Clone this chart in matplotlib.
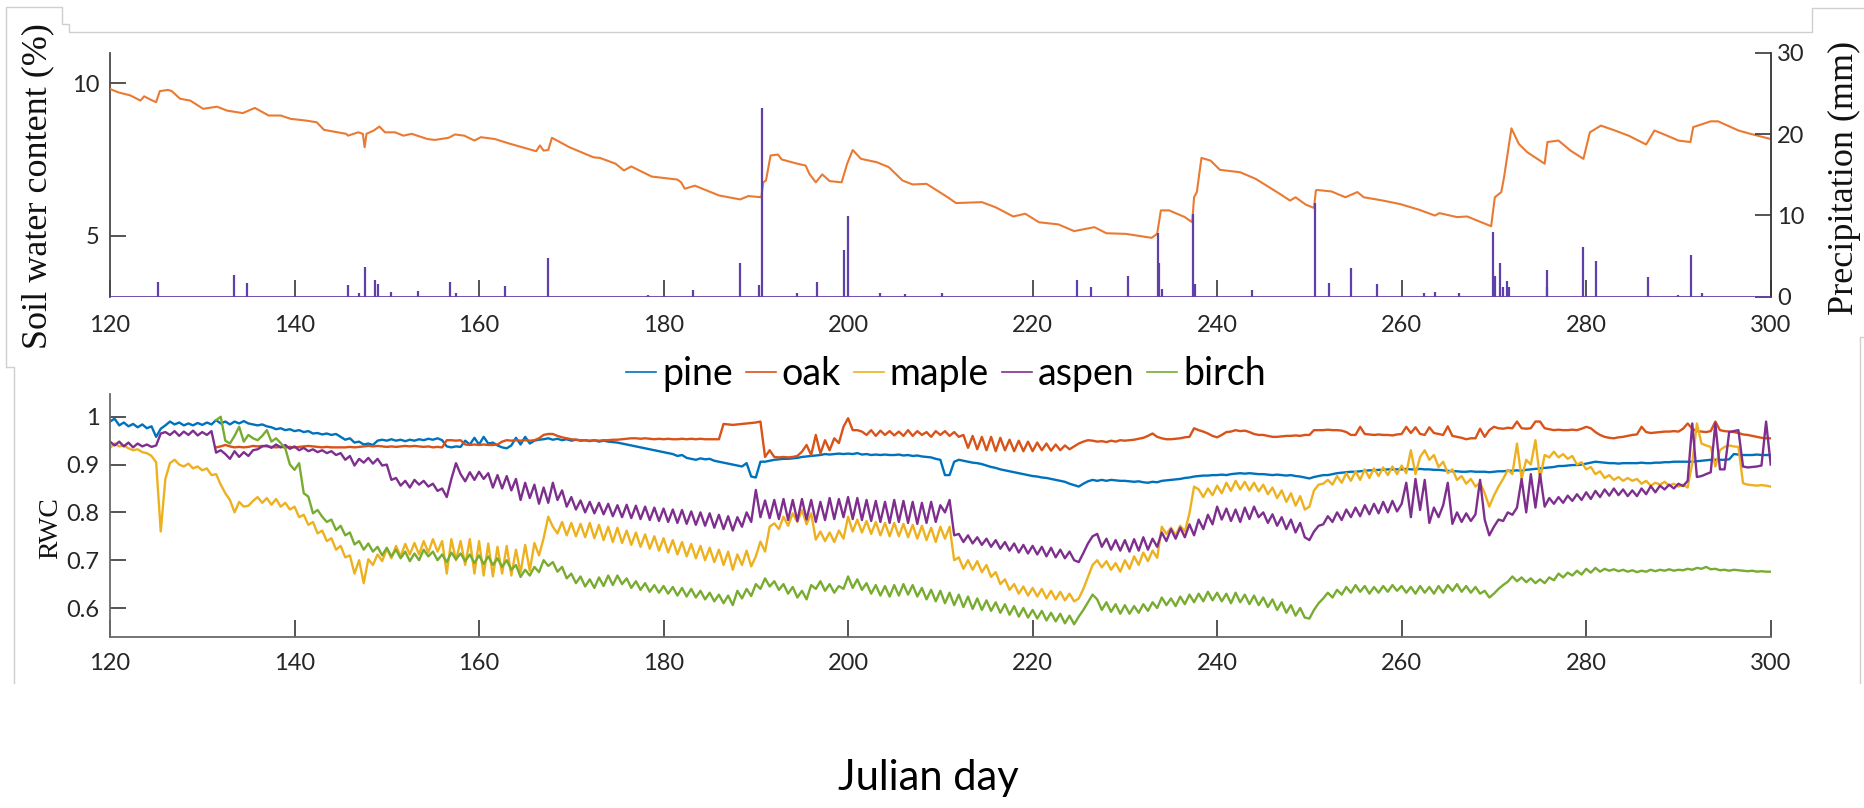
import numpy as np
import matplotlib
matplotlib.use("Agg")
import matplotlib.pyplot as plt
from matplotlib.lines import Line2D

# ---------------- data ----------------
# top panel: soil water content (%) of the oak plot
swc_day = [120.0, 120.9, 122.2, 123.3, 123.7, 124.6, 125.0, 125.4, 126.3, 126.7, 127.6, 128.7, 130.1, 131.6,
           132.7, 134.4, 135.7, 137.2, 138.5, 139.6, 141.1, 142.4, 143.2, 145.6, 145.8, 146.9, 147.4, 147.6,
           147.8, 148.6, 149.2, 149.8, 150.9, 151.8, 152.7, 154.4, 155.2, 156.7, 157.4, 158.4, 159.5, 160.2,
           161.7, 163.4, 166.2, 166.6, 167.0, 167.5, 167.9, 169.8, 172.4, 173.1, 174.8, 175.7, 176.5, 178.7,
           181.5, 181.9, 182.3, 183.4, 186.0, 188.3, 189.2, 190.6, 190.8, 191.1, 191.6, 192.4, 192.8, 194.5,
           195.4, 195.8, 196.5, 197.2, 198.0, 199.3, 199.9, 200.5, 201.4, 203.1, 204.4, 205.9, 207.0, 208.5,
           210.8, 211.7, 214.5, 216.0, 217.9, 219.2, 220.7, 222.8, 224.5, 226.7, 228.0, 230.1, 232.9, 233.5,
           233.9, 234.8, 236.5, 237.3, 237.5, 237.8, 238.3, 239.3, 240.3, 242.5, 244.2, 246.8, 247.9, 248.5,
           249.6, 250.5, 250.7, 250.8, 252.4, 253.9, 255.2, 255.9, 258.0, 259.8, 261.9, 263.6, 264.1, 266.0,
           267.1, 269.7, 270.1, 270.8, 271.1, 271.9, 272.7, 273.6, 275.5, 275.8, 277.0, 278.3, 279.7, 280.4,
           281.6, 283.1, 284.6, 286.5, 287.4, 288.3, 290.0, 291.3, 291.6, 293.5, 294.3, 296.5, 297.8, 300.0]
swc_val = [9.81, 9.70, 9.60, 9.43, 9.57, 9.43, 9.38, 9.74, 9.78, 9.74, 9.49, 9.43, 9.16, 9.23,
           9.10, 9.02, 9.19, 8.94, 8.94, 8.83, 8.78, 8.72, 8.47, 8.34, 8.28, 8.39, 8.34, 7.90,
           8.34, 8.45, 8.58, 8.39, 8.39, 8.28, 8.34, 8.17, 8.14, 8.21, 8.32, 8.28, 8.12, 8.23,
           8.17, 8.01, 7.77, 7.96, 7.79, 7.81, 8.21, 7.90, 7.57, 7.55, 7.36, 7.14, 7.27, 6.94,
           6.84, 6.75, 6.54, 6.64, 6.32, 6.19, 6.30, 6.26, 6.75, 6.81, 7.63, 7.66, 7.50, 7.36,
           7.30, 7.03, 6.75, 7.01, 6.79, 6.75, 7.36, 7.81, 7.52, 7.41, 7.25, 6.81, 6.68, 6.70,
           6.26, 6.07, 6.10, 5.93, 5.63, 5.72, 5.44, 5.37, 5.15, 5.28, 5.08, 5.06, 4.93, 5.06,
           5.83, 5.83, 5.61, 5.44, 6.26, 6.43, 7.55, 7.46, 7.16, 7.08, 6.86, 6.37, 6.15, 6.26,
           6.02, 5.91, 6.48, 6.50, 6.45, 6.26, 6.43, 6.26, 6.15, 6.04, 5.85, 5.66, 5.74, 5.61,
           5.63, 5.31, 6.26, 6.43, 6.92, 8.52, 8.01, 7.74, 7.36, 8.07, 8.12, 7.79, 7.52, 8.39,
           8.61, 8.45, 8.28, 7.99, 8.45, 8.34, 8.12, 8.07, 8.56, 8.75, 8.75, 8.45, 8.34, 8.17]

# top panel: precipitation events (mm)
precip_day = [125.2, 133.4, 134.8, 145.8, 147.0, 147.6, 148.7, 149.0, 150.5, 153.4, 156.8, 157.5, 162.8,
              167.5, 178.3, 183.2, 188.3, 190.3, 190.7, 194.5, 196.6, 199.6, 200.0, 203.5, 206.2, 210.2,
              224.8, 226.3, 230.3, 233.6, 233.7, 234.0, 237.4, 237.55, 243.8, 250.6, 252.1, 254.5, 257.3,
              262.4, 263.6, 266.2, 269.9, 270.1, 270.7, 271.0, 271.4, 271.6, 275.7, 275.8, 279.7, 281.1,
              286.7, 290.0, 291.4, 292.5]
precip_mm = [1.8, 2.7, 1.7, 1.4, 0.5, 3.6, 2.0, 1.6, 0.6, 0.7, 1.8, 0.4, 1.3,
             4.8, 0.2, 0.8, 4.1, 1.4, 23.2, 0.4, 1.8, 5.8, 9.9, 0.5, 0.3, 0.4,
             2.0, 1.2, 2.5, 7.8, 4.1, 1.0, 10.2, 1.6, 0.8, 11.5, 1.7, 3.5, 1.6,
             0.4, 0.6, 0.4, 8.0, 2.5, 4.2, 1.2, 1.9, 1.2, 1.2, 3.3, 6.1, 4.4,
             2.4, 0.2, 5.1, 0.4]

# bottom panel: relative water content, half-day readings
rwc_step = 0.5
species = ["pine", "oak", "maple", "aspen", "birch"]
start_day = {"pine": 120.0, "oak": 131.5, "maple": 120.0, "aspen": 120.0, "birch": 131.5}

pine = [
    0.990, 0.996, 0.982, 0.988, 0.980, 0.985, 0.978, 0.984, 0.976, 0.980,
    0.958, 0.975, 0.982, 0.990, 0.984, 0.988, 0.982, 0.986, 0.982, 0.987,
    0.983, 0.988, 0.984, 0.993, 0.986, 0.990, 0.984, 0.990, 0.986, 0.991,
    0.986, 0.984, 0.982, 0.984, 0.980, 0.978, 0.974, 0.976, 0.972, 0.974,
    0.970, 0.972, 0.968, 0.970, 0.965, 0.966, 0.963, 0.965, 0.962, 0.964,
    0.958, 0.952, 0.955, 0.946, 0.948, 0.942, 0.944, 0.941, 0.950, 0.952,
    0.950, 0.953, 0.950, 0.952, 0.949, 0.952, 0.950, 0.953, 0.951, 0.954,
    0.952, 0.955, 0.951, 0.938, 0.936, 0.938, 0.937, 0.950, 0.942, 0.956,
    0.942, 0.958, 0.944, 0.946, 0.940, 0.936, 0.934, 0.940, 0.956, 0.942,
    0.958, 0.944, 0.950, 0.952, 0.953, 0.955, 0.952, 0.954, 0.951, 0.953,
    0.950, 0.952, 0.950, 0.951, 0.949, 0.951, 0.948, 0.950, 0.948, 0.947,
    0.946, 0.944, 0.942, 0.940, 0.938, 0.936, 0.934, 0.932, 0.930, 0.928,
    0.926, 0.924, 0.922, 0.918, 0.920, 0.914, 0.912, 0.910, 0.913, 0.911,
    0.912, 0.908, 0.906, 0.904, 0.902, 0.900, 0.898, 0.896, 0.903, 0.875,
    0.873, 0.906, 0.906, 0.908, 0.910, 0.911, 0.912, 0.912, 0.913, 0.914,
    0.916, 0.917, 0.918, 0.919, 0.920, 0.922, 0.921, 0.922, 0.923, 0.922,
    0.923, 0.922, 0.924, 0.921, 0.922, 0.920, 0.921, 0.920, 0.921, 0.920,
    0.920, 0.921, 0.919, 0.920, 0.918, 0.919, 0.917, 0.916, 0.915, 0.912,
    0.910, 0.878, 0.878, 0.906, 0.910, 0.908, 0.906, 0.904, 0.903, 0.901,
    0.898, 0.895, 0.893, 0.890, 0.888, 0.886, 0.884, 0.882, 0.880, 0.878,
    0.876, 0.875, 0.873, 0.872, 0.870, 0.868, 0.866, 0.864, 0.860, 0.857,
    0.854, 0.860, 0.865, 0.868, 0.866, 0.868, 0.866, 0.868, 0.867, 0.866,
    0.866, 0.865, 0.864, 0.865, 0.863, 0.862, 0.864, 0.863, 0.866, 0.867,
    0.868, 0.869, 0.870, 0.872, 0.873, 0.875, 0.876, 0.877, 0.877, 0.878,
    0.878, 0.879, 0.878, 0.880, 0.881, 0.882, 0.881, 0.882, 0.881, 0.880,
    0.880, 0.879, 0.878, 0.879, 0.878, 0.877, 0.878, 0.876, 0.875, 0.873,
    0.871, 0.874, 0.876, 0.878, 0.878, 0.880, 0.882, 0.883, 0.884, 0.885,
    0.885, 0.886, 0.887, 0.888, 0.888, 0.889, 0.889, 0.890, 0.890, 0.890,
    0.890, 0.891, 0.890, 0.890, 0.891, 0.890, 0.890, 0.889, 0.889, 0.888,
    0.887, 0.886, 0.886, 0.885, 0.885, 0.886, 0.885, 0.885, 0.885, 0.884,
    0.885, 0.886, 0.886, 0.887, 0.887, 0.888, 0.887, 0.889, 0.890, 0.891,
    0.892, 0.893, 0.894, 0.895, 0.897, 0.897, 0.898, 0.899, 0.899, 0.900,
    0.902, 0.904, 0.906, 0.905, 0.904, 0.903, 0.903, 0.902, 0.903, 0.903,
    0.903, 0.903, 0.904, 0.903, 0.903, 0.904, 0.904, 0.905, 0.905, 0.906,
    0.906, 0.906, 0.906, 0.906, 0.907, 0.908, 0.909, 0.910, 0.910, 0.910,
    0.910, 0.911, 0.922, 0.921, 0.920, 0.920, 0.920, 0.921, 0.920, 0.920,
    0.920]

oak = [
    0.936, 0.938, 0.941, 0.938, 0.936, 0.937, 0.936,
    0.937, 0.939, 0.938, 0.939, 0.938, 0.937, 0.936, 0.937, 0.936, 0.937,
    0.936, 0.937, 0.938, 0.939, 0.938, 0.937, 0.936, 0.937, 0.936, 0.936,
    0.936, 0.936, 0.937, 0.936, 0.937, 0.938, 0.939, 0.938, 0.939, 0.938,
    0.937, 0.938, 0.937, 0.938, 0.939, 0.938, 0.939, 0.938, 0.937, 0.938,
    0.936, 0.937, 0.936, 0.951, 0.951, 0.950, 0.951, 0.942, 0.941, 0.942,
    0.941, 0.942, 0.941, 0.941, 0.942, 0.948, 0.951, 0.950, 0.951, 0.950,
    0.951, 0.950, 0.951, 0.955, 0.962, 0.964, 0.964, 0.960, 0.957, 0.955,
    0.953, 0.952, 0.951, 0.951, 0.950, 0.951, 0.950, 0.951, 0.951, 0.952,
    0.952, 0.953, 0.954, 0.955, 0.955, 0.954, 0.955, 0.954, 0.953, 0.954,
    0.953, 0.954, 0.953, 0.953, 0.954, 0.953, 0.954, 0.953, 0.954, 0.953,
    0.953, 0.953, 0.953, 0.985, 0.984, 0.983, 0.984, 0.985, 0.986, 0.987,
    0.988, 0.990, 0.916, 0.930, 0.916, 0.915, 0.916, 0.915, 0.916, 0.918,
    0.927, 0.941, 0.920, 0.962, 0.923, 0.951, 0.930, 0.955, 0.945, 0.979,
    0.997, 0.972, 0.972, 0.969, 0.962, 0.972, 0.960, 0.971, 0.962, 0.970,
    0.961, 0.969, 0.960, 0.972, 0.960, 0.970, 0.962, 0.968, 0.958, 0.970,
    0.962, 0.970, 0.960, 0.968, 0.958, 0.962, 0.935, 0.960, 0.932, 0.958,
    0.930, 0.958, 0.928, 0.956, 0.930, 0.952, 0.928, 0.950, 0.928, 0.948,
    0.928, 0.946, 0.930, 0.944, 0.929, 0.942, 0.930, 0.940, 0.932, 0.938,
    0.944, 0.948, 0.951, 0.950, 0.948, 0.949, 0.947, 0.950, 0.948, 0.951,
    0.950, 0.951, 0.952, 0.954, 0.956, 0.960, 0.965, 0.958, 0.955, 0.953,
    0.953, 0.954, 0.955, 0.957, 0.958, 0.976, 0.972, 0.969, 0.965, 0.960,
    0.957, 0.962, 0.968, 0.969, 0.972, 0.970, 0.971, 0.968, 0.964, 0.962,
    0.962, 0.960, 0.958, 0.958, 0.959, 0.960, 0.960, 0.961, 0.960, 0.962,
    0.962, 0.972, 0.972, 0.972, 0.973, 0.972, 0.972, 0.971, 0.968, 0.962,
    0.962, 0.979, 0.964, 0.963, 0.962, 0.963, 0.962, 0.962, 0.961, 0.963,
    0.964, 0.979, 0.966, 0.978, 0.964, 0.962, 0.978, 0.966, 0.964, 0.962,
    0.980, 0.960, 0.958, 0.956, 0.953, 0.955, 0.955, 0.975, 0.958, 0.972,
    0.979, 0.976, 0.975, 0.977, 0.976, 0.990, 0.976, 0.975, 0.976, 0.990,
    0.990, 0.976, 0.974, 0.972, 0.973, 0.972, 0.972, 0.973, 0.972, 0.975,
    0.979, 0.976, 0.968, 0.962, 0.958, 0.956, 0.955, 0.957, 0.958, 0.960,
    0.962, 0.963, 0.979, 0.968, 0.966, 0.967, 0.968, 0.969, 0.969, 0.970,
    0.969, 0.975, 0.986, 0.975, 0.970, 0.969, 0.968, 0.970, 0.990, 0.972,
    0.970, 0.969, 0.968, 0.966, 0.963, 0.962, 0.960, 0.958, 0.956, 0.955,
    0.955]

maple = [
    0.935, 0.944, 0.938, 0.940, 0.934, 0.930, 0.932, 0.926, 0.924, 0.918,
    0.905, 0.760, 0.870, 0.903, 0.910, 0.900, 0.896, 0.902, 0.892, 0.896,
    0.888, 0.892, 0.878, 0.880, 0.858, 0.840, 0.826, 0.800, 0.822, 0.812,
    0.814, 0.824, 0.832, 0.820, 0.830, 0.816, 0.828, 0.812, 0.820, 0.806,
    0.812, 0.790, 0.795, 0.774, 0.780, 0.756, 0.762, 0.740, 0.746, 0.722,
    0.730, 0.706, 0.710, 0.672, 0.700, 0.652, 0.702, 0.690, 0.712, 0.698,
    0.724, 0.704, 0.730, 0.708, 0.734, 0.712, 0.736, 0.712, 0.740, 0.716,
    0.744, 0.718, 0.740, 0.672, 0.744, 0.700, 0.740, 0.690, 0.744, 0.672,
    0.740, 0.668, 0.735, 0.666, 0.728, 0.672, 0.730, 0.668, 0.722, 0.674,
    0.732, 0.678, 0.736, 0.710, 0.746, 0.791, 0.770, 0.756, 0.780, 0.752,
    0.778, 0.750, 0.776, 0.748, 0.778, 0.746, 0.774, 0.742, 0.770, 0.738,
    0.768, 0.736, 0.762, 0.732, 0.758, 0.728, 0.754, 0.724, 0.750, 0.720,
    0.746, 0.716, 0.742, 0.712, 0.738, 0.708, 0.734, 0.704, 0.730, 0.700,
    0.726, 0.696, 0.722, 0.690, 0.718, 0.680, 0.712, 0.690, 0.720, 0.687,
    0.708, 0.739, 0.718, 0.770, 0.777, 0.765, 0.791, 0.772, 0.798, 0.780,
    0.805, 0.775, 0.798, 0.743, 0.760, 0.740, 0.758, 0.738, 0.762, 0.745,
    0.791, 0.760, 0.785, 0.758, 0.782, 0.755, 0.780, 0.752, 0.778, 0.750,
    0.778, 0.750, 0.776, 0.748, 0.774, 0.745, 0.772, 0.742, 0.768, 0.738,
    0.770, 0.745, 0.770, 0.700, 0.706, 0.682, 0.700, 0.680, 0.698, 0.675,
    0.690, 0.665, 0.675, 0.650, 0.660, 0.638, 0.650, 0.630, 0.645, 0.626,
    0.642, 0.624, 0.640, 0.620, 0.636, 0.618, 0.634, 0.616, 0.630, 0.614,
    0.620, 0.640, 0.665, 0.690, 0.700, 0.685, 0.698, 0.680, 0.694, 0.676,
    0.700, 0.682, 0.708, 0.690, 0.716, 0.698, 0.720, 0.705, 0.770, 0.755,
    0.768, 0.752, 0.772, 0.760, 0.798, 0.854, 0.848, 0.832, 0.850, 0.836,
    0.856, 0.840, 0.862, 0.845, 0.866, 0.848, 0.864, 0.846, 0.862, 0.844,
    0.858, 0.838, 0.852, 0.830, 0.846, 0.822, 0.840, 0.814, 0.834, 0.806,
    0.812, 0.846, 0.858, 0.860, 0.868, 0.858, 0.876, 0.862, 0.882, 0.866,
    0.886, 0.868, 0.890, 0.872, 0.892, 0.876, 0.894, 0.878, 0.896, 0.880,
    0.898, 0.882, 0.930, 0.880, 0.916, 0.930, 0.910, 0.920, 0.895, 0.906,
    0.882, 0.890, 0.868, 0.876, 0.860, 0.870, 0.854, 0.862, 0.840, 0.812,
    0.835, 0.854, 0.870, 0.889, 0.880, 0.944, 0.870, 0.910, 0.900, 0.951,
    0.870, 0.920, 0.915, 0.927, 0.915, 0.922, 0.912, 0.918, 0.900, 0.905,
    0.890, 0.895, 0.880, 0.886, 0.872, 0.878, 0.868, 0.874, 0.866, 0.872,
    0.866, 0.870, 0.860, 0.866, 0.856, 0.862, 0.858, 0.864, 0.856, 0.860,
    0.854, 0.858, 0.852, 0.903, 0.986, 0.944, 0.940, 0.937, 0.896, 0.930,
    0.937, 0.940, 0.938, 0.937, 0.861, 0.858, 0.857, 0.856, 0.857, 0.856,
    0.854]

aspen = [
    0.948, 0.940, 0.948, 0.938, 0.946, 0.936, 0.944, 0.938, 0.942, 0.937,
    0.940, 0.965, 0.968, 0.962, 0.970, 0.960, 0.969, 0.962, 0.971, 0.961,
    0.968, 0.962, 0.970, 0.925, 0.930, 0.922, 0.912, 0.928, 0.916, 0.926,
    0.918, 0.930, 0.932, 0.938, 0.940, 0.935, 0.942, 0.936, 0.941, 0.933,
    0.938, 0.930, 0.935, 0.928, 0.932, 0.926, 0.930, 0.924, 0.928, 0.920,
    0.924, 0.910, 0.918, 0.898, 0.912, 0.904, 0.914, 0.902, 0.912, 0.898,
    0.900, 0.868, 0.872, 0.856, 0.866, 0.852, 0.868, 0.858, 0.866, 0.854,
    0.860, 0.845, 0.850, 0.832, 0.870, 0.903, 0.880, 0.865, 0.884, 0.868,
    0.885, 0.870, 0.882, 0.852, 0.878, 0.850, 0.876, 0.846, 0.870, 0.826,
    0.862, 0.830, 0.858, 0.818, 0.852, 0.820, 0.862, 0.826, 0.846, 0.812,
    0.832, 0.806, 0.825, 0.800, 0.822, 0.798, 0.820, 0.796, 0.818, 0.792,
    0.815, 0.790, 0.816, 0.788, 0.814, 0.786, 0.812, 0.784, 0.810, 0.782,
    0.808, 0.780, 0.806, 0.778, 0.805, 0.776, 0.802, 0.774, 0.800, 0.772,
    0.798, 0.768, 0.795, 0.765, 0.792, 0.762, 0.790, 0.770, 0.800, 0.780,
    0.847, 0.790, 0.825, 0.788, 0.826, 0.786, 0.828, 0.784, 0.826, 0.782,
    0.828, 0.785, 0.826, 0.780, 0.822, 0.784, 0.830, 0.786, 0.828, 0.790,
    0.832, 0.786, 0.830, 0.784, 0.826, 0.782, 0.824, 0.780, 0.822, 0.778,
    0.826, 0.780, 0.824, 0.778, 0.822, 0.776, 0.820, 0.778, 0.822, 0.780,
    0.815, 0.800, 0.826, 0.752, 0.755, 0.738, 0.752, 0.735, 0.748, 0.732,
    0.745, 0.728, 0.742, 0.724, 0.738, 0.720, 0.735, 0.716, 0.732, 0.714,
    0.730, 0.712, 0.728, 0.708, 0.726, 0.706, 0.722, 0.704, 0.718, 0.700,
    0.696, 0.715, 0.735, 0.750, 0.755, 0.728, 0.745, 0.722, 0.742, 0.720,
    0.742, 0.718, 0.744, 0.720, 0.748, 0.722, 0.745, 0.728, 0.758, 0.740,
    0.765, 0.745, 0.768, 0.748, 0.775, 0.752, 0.785, 0.765, 0.795, 0.775,
    0.812, 0.785, 0.808, 0.782, 0.806, 0.780, 0.810, 0.786, 0.812, 0.790,
    0.800, 0.778, 0.796, 0.772, 0.790, 0.765, 0.785, 0.758, 0.778, 0.748,
    0.742, 0.760, 0.772, 0.775, 0.792, 0.780, 0.800, 0.784, 0.806, 0.790,
    0.810, 0.792, 0.815, 0.796, 0.818, 0.798, 0.822, 0.800, 0.824, 0.802,
    0.818, 0.862, 0.790, 0.870, 0.805, 0.868, 0.778, 0.810, 0.790, 0.815,
    0.862, 0.776, 0.800, 0.780, 0.798, 0.782, 0.796, 0.868, 0.785, 0.752,
    0.770, 0.785, 0.782, 0.800, 0.795, 0.810, 0.870, 0.800, 0.880, 0.810,
    0.880, 0.812, 0.830, 0.818, 0.832, 0.820, 0.835, 0.824, 0.838, 0.826,
    0.842, 0.828, 0.845, 0.832, 0.848, 0.835, 0.850, 0.836, 0.848, 0.834,
    0.846, 0.834, 0.850, 0.838, 0.855, 0.842, 0.856, 0.848, 0.858, 0.850,
    0.860, 0.855, 0.866, 0.986, 0.874, 0.876, 0.880, 0.884, 0.986, 0.890,
    0.890, 0.968, 0.970, 0.972, 0.896, 0.894, 0.895, 0.896, 0.898, 0.990,
    0.900]

birch = [
    0.993, 1.000, 0.950, 0.944, 0.960, 0.979, 0.948,
    0.962, 0.955, 0.951, 0.960, 0.972, 0.948, 0.955, 0.945, 0.934, 0.900,
    0.889, 0.903, 0.840, 0.833, 0.798, 0.805, 0.791, 0.780, 0.785, 0.763,
    0.772, 0.752, 0.758, 0.733, 0.740, 0.722, 0.735, 0.718, 0.728, 0.710,
    0.726, 0.708, 0.722, 0.704, 0.718, 0.698, 0.714, 0.700, 0.722, 0.708,
    0.718, 0.700, 0.712, 0.696, 0.716, 0.702, 0.714, 0.698, 0.712, 0.694,
    0.710, 0.692, 0.708, 0.690, 0.704, 0.686, 0.700, 0.680, 0.690, 0.665,
    0.680, 0.668, 0.686, 0.675, 0.700, 0.688, 0.696, 0.676, 0.686, 0.662,
    0.672, 0.652, 0.666, 0.645, 0.660, 0.642, 0.664, 0.646, 0.668, 0.648,
    0.668, 0.650, 0.662, 0.642, 0.656, 0.638, 0.652, 0.634, 0.648, 0.632,
    0.646, 0.630, 0.644, 0.626, 0.642, 0.624, 0.640, 0.622, 0.636, 0.618,
    0.632, 0.614, 0.628, 0.610, 0.626, 0.606, 0.636, 0.620, 0.640, 0.625,
    0.650, 0.640, 0.662, 0.645, 0.656, 0.638, 0.650, 0.630, 0.644, 0.622,
    0.636, 0.618, 0.648, 0.640, 0.656, 0.636, 0.650, 0.632, 0.646, 0.640,
    0.666, 0.642, 0.660, 0.638, 0.652, 0.630, 0.648, 0.626, 0.646, 0.624,
    0.648, 0.626, 0.650, 0.628, 0.648, 0.624, 0.642, 0.618, 0.638, 0.614,
    0.636, 0.610, 0.632, 0.606, 0.628, 0.602, 0.624, 0.598, 0.620, 0.596,
    0.616, 0.594, 0.612, 0.590, 0.608, 0.586, 0.604, 0.582, 0.600, 0.580,
    0.596, 0.578, 0.594, 0.574, 0.590, 0.572, 0.588, 0.568, 0.584, 0.566,
    0.582, 0.596, 0.612, 0.628, 0.618, 0.596, 0.612, 0.592, 0.608, 0.588,
    0.606, 0.588, 0.604, 0.590, 0.608, 0.594, 0.612, 0.600, 0.622, 0.606,
    0.620, 0.604, 0.624, 0.608, 0.628, 0.612, 0.630, 0.614, 0.634, 0.616,
    0.632, 0.614, 0.630, 0.610, 0.632, 0.612, 0.628, 0.608, 0.626, 0.606,
    0.622, 0.602, 0.618, 0.596, 0.612, 0.590, 0.606, 0.584, 0.600, 0.580,
    0.578, 0.596, 0.610, 0.620, 0.632, 0.622, 0.638, 0.628, 0.644, 0.632,
    0.648, 0.634, 0.646, 0.630, 0.644, 0.632, 0.646, 0.634, 0.648, 0.636,
    0.646, 0.632, 0.644, 0.630, 0.646, 0.632, 0.644, 0.630, 0.646, 0.632,
    0.648, 0.636, 0.650, 0.634, 0.646, 0.632, 0.644, 0.630, 0.636, 0.622,
    0.630, 0.640, 0.648, 0.655, 0.666, 0.656, 0.664, 0.654, 0.662, 0.652,
    0.660, 0.652, 0.664, 0.658, 0.672, 0.664, 0.674, 0.668, 0.678, 0.670,
    0.682, 0.674, 0.684, 0.676, 0.682, 0.678, 0.681, 0.677, 0.680, 0.676,
    0.679, 0.675, 0.678, 0.676, 0.680, 0.677, 0.680, 0.678, 0.681, 0.678,
    0.680, 0.679, 0.682, 0.680, 0.684, 0.682, 0.686, 0.681, 0.682, 0.679,
    0.680, 0.678, 0.680, 0.679, 0.678, 0.677, 0.678, 0.676, 0.677, 0.676,
    0.676]

rwc = {"pine": pine, "oak": oak, "maple": maple, "aspen": aspen, "birch": birch}
colors = {"pine": "#0072BD", "oak": "#D95319", "maple": "#EDB120",
          "aspen": "#7E2F8E", "birch": "#77AC30"}

x_ticks = [120, 140, 160, 180, 200, 220, 240, 260, 280, 300]
swc_ticks = [5, 10]
precip_ticks = [0, 10, 20, 30]
rwc_ticks = [0.6, 0.7, 0.8, 0.9, 1.0]
rwc_ticklabels = ["0.6", "0.7", "0.8", "0.9", "1"]

# ---------------- figure ----------------
W, H = 1865, 808
fig = plt.figure(figsize=(W / 100, H / 100), dpi=100)
fig.patch.set_facecolor("white")

def fx(px):
    return px / W

def fy(py):
    return 1 - py / H

SANS = ["Lato", "DejaVu Sans"]
SERIF = ["Liberation Serif", "DejaVu Serif"]
tick_col = "#262626"
spine_col = "#4a4a4a"

left_px, right_px = 110, 1770.7
ax1 = fig.add_axes([fx(left_px), fy(296.7), (right_px - left_px) / W, (296.7 - 52.7) / H])
ax2 = ax1.twinx()
ax3 = fig.add_axes([fx(left_px), fy(636.7), (right_px - left_px) / W, (636.7 - 394.3) / H])

for ax in (ax1, ax2, ax3):
    ax.set_facecolor("none")
    ax.set_xlim(120, 300)
    ax.set_xticks(x_ticks)
    for s in ax.spines.values():
        s.set_color(spine_col)
        s.set_linewidth(1.3)
    ax.tick_params(direction="in", colors=tick_col, width=1.1, labelsize=17)

# top panel
ax1.plot(swc_day, swc_val, color="#EA7A32", lw=1.5, zorder=3)
ax1.set_ylim(3, 11)
ax1.set_yticks(swc_ticks)
ax1.spines["top"].set_visible(False)
ax1.spines["bottom"].set_visible(False)
ax1.spines["right"].set_visible(False)
ax1.tick_params(axis="y", length=11.5, pad=7.5)
ax1.tick_params(axis="x", length=12.6, pad=13)
for lab in ax1.get_xticklabels() + ax1.get_yticklabels():
    lab.set_family(SANS)

ax2.vlines(precip_day, 0, precip_mm, color="#5F3FA9", lw=1.6, zorder=4)
ax2.axhline(0, color="#5F3FA9", lw=2.0, zorder=4)
ax2.set_ylim(0, 30)
ax2.set_yticks(precip_ticks)
ax2.spines["top"].set_visible(False)
ax2.spines["bottom"].set_visible(False)
ax2.spines["left"].set_visible(False)
ax2.spines["right"].set_color("#333333")
ax2.tick_params(axis="y", length=11.5, pad=4.5)
for lab in ax2.get_yticklabels():
    lab.set_family(SANS)

# bottom panel
handles = []
for sp in species:
    vals = np.array(rwc[sp], dtype=float)
    days = start_day[sp] + rwc_step * np.arange(len(vals))
    ax3.plot(days, vals, color=colors[sp], lw=1.7)
    handles.append(Line2D([], [], color=colors[sp], lw=1.2))
ax3.set_ylim(0.54, 1.047)
ax3.set_yticks(rwc_ticks)
ax3.set_yticklabels(rwc_ticklabels)
ax3.spines["top"].set_visible(False)
ax3.spines["right"].set_visible(False)
ax3.spines["bottom"].set_color("#6a6a6a")
ax3.spines["left"].set_color("#6a6a6a")
ax3.tick_params(axis="y", length=11.5, pad=7.5)
ax3.tick_params(axis="x", length=12.6, pad=12)
for lab in ax3.get_xticklabels() + ax3.get_yticklabels():
    lab.set_family(SANS)

fig.legend(handles, species, loc="center", bbox_to_anchor=(fx(946), fy(374)), ncol=5,
           frameon=False, prop={"family": SANS, "size": 27}, handlelength=0.8,
           handletextpad=0.15, columnspacing=0.35, borderpad=0)

fig.text(fx(37.5), fy(186.5), "Soil water content (%)", rotation=90, ha="center", va="center",
         family=SERIF, fontsize=26, color="#111111")
fig.text(fx(1844), fy(178), "Precipitation (mm)", rotation=90, ha="center", va="center",
         family=SERIF, fontsize=26, color="#111111")
fig.text(fx(50.5), fy(528), "RWC", rotation=90, ha="center", va="center",
         family=SERIF, fontsize=20, color="#111111")
fig.text(fx(928), fy(790), "Julian day", ha="center", va="baseline",
         family=SANS, fontsize=30, color="black")

# faint screenshot frame lines
frame_col = "#cfcfcf"
for pts in ([(6, 367), (6, 7), (62.5, 7), (62.5, 24), (69, 24), (69, 32), (1812, 32), (1812, 8), (1865, 8)],
            [(6, 367), (14, 367), (14, 683)],
            [(1865, 337), (1860, 337), (1860, 683)]):
    xs = [fx(p[0]) for p in pts]
    ys = [fy(p[1]) for p in pts]
    fig.add_artist(Line2D(xs, ys, color=frame_col, lw=1.0, transform=fig.transFigure))

fig.savefig("out.png", dpi=100, facecolor="white")
